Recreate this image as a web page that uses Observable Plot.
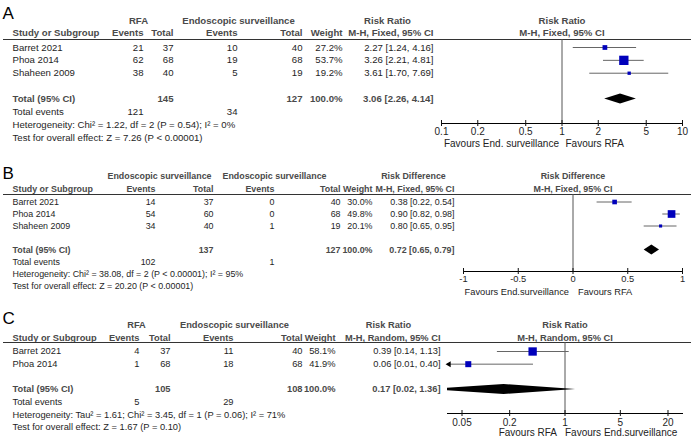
<!DOCTYPE html>
<html><head><meta charset="utf-8">
<script src="https://cdn.jsdelivr.net/npm/d3@7"></script>
<script src="https://cdn.jsdelivr.net/npm/@observablehq/plot@0.6"></script>
<style>
html,body{margin:0;padding:0;background:#fff;}
#chart{width:691px;}
#chart svg{display:block;}
</style></head><body><div id="chart"></div>
<script>
// ---------- Panel A: Risk Ratio, M-H Fixed
const studiesA = ["Barret 2021", "Phoa 2014", "Shaheen 2009"];
const rfaEventsA = [21, 62, 38];
const rfaTotalA = [37, 68, 40];
const esEventsA = [10, 19, 5];
const esTotalA = [40, 68, 19];
const weightA = [27.2, 53.7, 19.2];
const estA = [2.27, 3.26, 3.61];
const lowA = [1.24, 2.21, 1.70];
const highA = [4.16, 4.81, 7.69];
const pooledA = [3.06, 2.26, 4.14];
const totalNA = [145, 127];
const totalEventsA = [121, 34];
const ticksA = [0.1, 0.2, 0.5, 1, 2, 5, 10];
const hetA = "Heterogeneity: Chi² = 1.22, df = 2 (P = 0.54); I² = 0%";
const testA = "Test for overall effect: Z = 7.26 (P < 0.00001)";

// ---------- Panel B: Risk Difference, M-H Fixed
const studiesB = ["Barret 2021", "Phoa 2014", "Shaheen 2009"];
const rfaEventsB = [14, 54, 34];
const rfaTotalB = [37, 60, 40];
const esEventsB = [0, 0, 1];
const esTotalB = [40, 68, 19];
const weightB = [30.0, 49.8, 20.1];
const estB = [0.38, 0.90, 0.80];
const lowB = [0.22, 0.82, 0.65];
const highB = [0.54, 0.98, 0.95];
const pooledB = [0.72, 0.65, 0.79];
const totalNB = [137, 127];
const totalEventsB = [102, 1];
const ticksB = [-1, -0.5, 0, 0.5, 1];
const hetB = "Heterogeneity: Chi² = 38.08, df = 2 (P < 0.00001); I² = 95%";
const testB = "Test for overall effect: Z = 20.20 (P < 0.00001)";

// ---------- Panel C: Risk Ratio, M-H Random
const studiesC = ["Barret 2021", "Phoa 2014"];
const rfaEventsC = [4, 1];
const rfaTotalC = [37, 68];
const esEventsC = [11, 18];
const esTotalC = [40, 68];
const weightC = [58.1, 41.9];
const estC = [0.39, 0.06];
const lowC = [0.14, 0.01];
const highC = [1.13, 0.40];
const pooledC = [0.17, 0.02, 1.36];
const totalNC = [105, 108];
const totalEventsC = [5, 29];
const ticksC = [0.05, 0.2, 1, 5, 20];
const hetC = "Heterogeneity: Tau² = 1.61; Chi² = 3.45, df = 1 (P = 0.06); I² = 71%";
const testC = "Test for overall effect: Z = 1.67 (P = 0.10)";

const fmtCI = (e, l, h) => `${e.toFixed(2)} [${l.toFixed(2)}, ${h.toFixed(2)}]`;

function drawPanel(d, L) {
  const n = d.studies.length;
  const rows = d.studies.map((s, i) => ({
    row: i + 1, study: s, e1: d.e1[i], t1: d.t1[i], e2: d.e2[i], t2: d.t2[i],
    w: d.w[i].toFixed(1) + "%", wv: d.w[i], est: d.est[i], lo: d.lo[i], hi: d.hi[i],
    ci: fmtCI(d.est[i], d.lo[i], d.hi[i])
  }));
  const tr = n + 2;
  const total = [{row: tr, study: "Total (95% CI)", t1: d.totalN[0], t2: d.totalN[1], w: "100.0%", ci: fmtCI(...d.pooled)}];
  const ev = [{row: tr + 1, study: "Total events", e1: d.totalEvents[0], e2: d.totalEvents[1]}];
  const notes = [{row: tr + 2, text: d.het}, {row: tr + 3, text: d.test}];
  const ml = L.marginLeft;
  const normal = {fontSize: L.fs, fill: "#1e1e1e"};
  const bold = {fontSize: L.fs, fill: "#4a4a4a", fontWeight: "bold"};
  const at = (x) => ({frameAnchor: "left", dx: x - ml});
  const cell = (data, key, x, anchor, style) => Plot.text(data, {y: "row", text: key, ...at(x), textAnchor: anchor, ...style});
  const lab = (str, row, x, anchor, style) => Plot.text([str], {y: () => row, text: t => t, ...at(x), textAnchor: anchor, ...style});
  const rowPx = (L.yRange[1] - L.yRange[0]) / (L.yDomain[1] - L.yDomain[0]);
  const h = L.diamondPx / rowPx;
  const [pe, pl, ph] = d.pooled;
  const diamond = [{x: pl, y1: tr, y2: tr}, {x: pe, y1: tr - h, y2: tr + h}, {x: ph, y1: tr, y2: tr}];
  const xmin = L.xDomain[0];
  const C = L.cols;
  const marks = [
    lab(d.letter, L.letterRow, 2, "start", {fontSize: 17, fill: "#000"}),
    lab(d.groups[0], L.groupRow, C.g1, "middle", bold),
    lab(d.groups[1], L.groupRow, C.g2, "middle", bold),
    lab(d.effect, L.groupRow, C.eh, "middle", bold),
    Plot.text([d.effect], {x: () => d.nullValue, y: () => L.groupRow, text: t => t, textAnchor: "middle", ...bold}),
    lab("Study or Subgroup", L.headRow, C.study, "start", bold),
    lab("Events", L.headRow, C.e1, "end", bold),
    lab("Total", L.headRow, C.t1, "end", bold),
    lab("Events", L.headRow, C.e2, "end", bold),
    lab("Total", L.headRow, C.t2, "end", bold),
    lab("Weight", L.headRow, C.w, "end", bold),
    lab(d.method, L.headRow, C.ci, "end", bold),
    Plot.text([d.method], {x: () => d.nullValue, y: () => L.headRow, text: t => t, textAnchor: "middle", ...bold}),
    Plot.frame({anchor: "top", insetLeft: -(ml - 3), insetRight: -L.marginRight, stroke: "#333"}),
    cell(rows, "study", C.study, "start", normal),
    cell(rows, "e1", C.e1, "end", normal),
    cell(rows, "t1", C.t1, "end", normal),
    cell(rows, "e2", C.e2, "end", normal),
    cell(rows, "t2", C.t2, "end", normal),
    cell(rows, "w", C.w, "end", normal),
    cell(rows, "ci", C.ci, "end", normal),
    cell(total, "study", C.study, "start", bold),
    cell(total, "t1", C.t1, "end", bold),
    cell(total, "t2", C.t2, "end", bold),
    cell(total, "w", C.w, "end", bold),
    cell(total, "ci", C.ci, "end", bold),
    cell(ev, "study", C.study, "start", normal),
    cell(ev, "e1", C.e1, "end", normal),
    cell(ev, "e2", C.e2, "end", normal),
    cell(notes, "text", C.study, "start", normal),
    Plot.ruleX([d.nullValue], {stroke: "#555"}),
    Plot.ruleY(rows, {y: "row", x1: "lo", x2: "hi", stroke: "#666", clip: true}),
    Plot.dot(rows.filter(r => r.lo < xmin), {x: () => xmin, y: "row", symbol: "triangle", r: 2.2, rotate: -90, fill: "#000", dx: 1.5}),
    Plot.dot(rows, {x: "est", y: "row", r: "wv", symbol: "square", fill: "#0000bb"}),
    Plot.areaY(diamond, {x: "x", y1: "y1", y2: "y2", fill: "#000", clip: true}),
    Plot.frame({anchor: "bottom", stroke: "#000"}),
    Plot.axisX({ticks: d.ticks, tickFormat: () => "", tickSize: 6, dy: -3, tickPadding: 1, label: null, color: "#111"}),
    Plot.text(d.ticks, {x: v => v, text: v => String(v), frameAnchor: "bottom", lineAnchor: "middle", dy: L.tickDy, fontSize: L.tickFs, fill: "#1e1e1e"}),
    Plot.text([d.favours[0]], {x: () => d.nullValue, y: () => L.favRow, text: t => t, textAnchor: "end", dx: L.favDx[0], fontSize: L.tickFs, fill: "#222"}),
    Plot.text([d.favours[1]], {x: () => d.nullValue, y: () => L.favRow, text: t => t, textAnchor: "start", dx: L.favDx[1], fontSize: L.tickFs, fill: "#222"})
  ];
  return Plot.plot({
    width: 691, height: L.height,
    marginLeft: ml, marginRight: L.marginRight, marginTop: L.marginTop, marginBottom: L.marginBottom,
    x: {type: d.scaleType, domain: L.xDomain, label: null},
    y: {domain: L.yDomain, range: L.yRange, axis: null},
    r: {type: "linear", domain: [0, 100], range: [0, L.rMax]},
    style: {fontFamily: "'Liberation Sans', Arial, sans-serif", background: "#fff"},
    marks
  });
}

const dataA = {letter: "A", studies: studiesA, e1: rfaEventsA, t1: rfaTotalA, e2: esEventsA, t2: esTotalA, w: weightA,
  est: estA, lo: lowA, hi: highA, pooled: pooledA, totalN: totalNA, totalEvents: totalEventsA, het: hetA, test: testA,
  ticks: ticksA, scaleType: "log", nullValue: 1, groups: ["RFA", "Endoscopic surveillance"], effect: "Risk Ratio",
  method: "M-H, Fixed, 95% CI", favours: ["Favours End. surveillance", "Favours RFA"]};
const dataB = {letter: "B", studies: studiesB, e1: rfaEventsB, t1: rfaTotalB, e2: esEventsB, t2: esTotalB, w: weightB,
  est: estB, lo: lowB, hi: highB, pooled: pooledB, totalN: totalNB, totalEvents: totalEventsB, het: hetB, test: testB,
  ticks: ticksB, scaleType: "linear", nullValue: 0, groups: ["Endoscopic surveillance", "Endoscopic surveillance"], effect: "Risk Difference",
  method: "M-H, Fixed, 95% CI", favours: ["Favours End.surveillance", "Favours RFA"]};
const dataC = {letter: "C", studies: studiesC, e1: rfaEventsC, t1: rfaTotalC, e2: esEventsC, t2: esTotalC, w: weightC,
  est: estC, lo: lowC, hi: highC, pooled: pooledC, totalN: totalNC, totalEvents: totalEventsC, het: hetC, test: testC,
  ticks: ticksC, scaleType: "log", nullValue: 1, groups: ["RFA", "Endoscopic surveillance"], effect: "Risk Ratio",
  method: "M-H, Random, 95% CI", favours: ["Favours RFA", "Favours End.surveillance"]};

const layoutA = {height: 148, marginLeft: 441, marginRight: 9, marginTop: 39, marginBottom: 25,
  xDomain: [0.1, 10], yDomain: [1, 8], yRange: [47, 137], fs: 9.6, tickFs: 10, tickDy: 8.5,
  letterRow: -1.64, groupRow: -1.1, headRow: -0.17, favRow: 8.47, favDx: [-3, 3.5], rMax: 9.8, diamondPx: 5,
  cols: {study: 12, e1: 143, t1: 173, e2: 237, t2: 302, w: 342, ci: 433, g1: 138, g2: 238, eh: 387}};
const layoutB = {height: 147, marginLeft: 463, marginRight: 9, marginTop: 46, marginBottom: 24,
  xDomain: [-1, 1], yDomain: [1, 8], yRange: [53.5, 137.5], fs: 8.9, tickFs: 9.3, tickDy: 7.5,
  letterRow: -1.38, groupRow: -1.13, headRow: -0.04, favRow: 8.46, favDx: [-4, 5], rMax: 8.7, diamondPx: 5,
  cols: {study: 12, e1: 155, t1: 213, e2: 274, t2: 340, w: 372, ci: 454, g1: 159, g2: 274, eh: 413}};
const layoutC = {height: 147, marginLeft: 447, marginRight: 9, marginTop: 47, marginBottom: 29,
  xDomain: [1 / 30.5, 30.5], yDomain: [1, 7], yRange: [56, 132], fs: 9.3, tickFs: 10, tickDy: 9,
  letterRow: -1.6, groupRow: -1.13, headRow: -0.1, favRow: 7.39, favDx: [-8, 0], rMax: 8.1, diamondPx: 5,
  cols: {study: 12, e1: 139, t1: 170, e2: 233, t2: 302, w: 335, ci: 440, g1: 136, g2: 234, eh: 388}};

const root = document.getElementById("chart");
root.append(drawPanel(dataA, layoutA));
root.append(drawPanel(dataB, layoutB));
root.append(drawPanel(dataC, layoutC));
</script></body></html>
